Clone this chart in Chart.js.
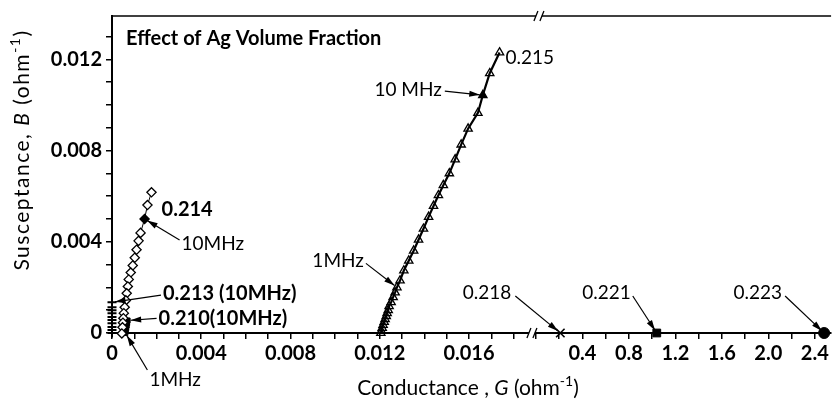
<!DOCTYPE html>
<html>
<head>
<meta charset="utf-8">
<script src="https://cdn.jsdelivr.net/npm/chart.js@4"></script>
<style>
  body { margin: 0; background: #fff; }
  #wrap { width: 839px; height: 410px; }
</style>
</head>
<body>
<div id="wrap"><canvas id="chart"></canvas></div>
<script>
// conductance G and susceptance B (ohm^-1) for each Ag volume fraction
const g215 = [0.01737, 0.01693, 0.01662, 0.01640, 0.01596, 0.01565, 0.01538, 0.01512, 0.01485, 0.01463,
              0.01441, 0.01419, 0.01396, 0.01374, 0.01352, 0.01330, 0.01308, 0.01291, 0.01277, 0.01269,
              0.01260, 0.01251, 0.01242, 0.01238, 0.01233, 0.01229, 0.01224, 0.01220, 0.01215, 0.01211,
              0.01207, 0.01205];
const b215 = [0.01230, 0.01139, 0.01043, 0.00965, 0.00896, 0.00826, 0.00761, 0.00700, 0.00648, 0.00604,
              0.00557, 0.00509, 0.00457, 0.00409, 0.00361, 0.00317, 0.00274, 0.00230, 0.00200, 0.00178,
              0.00157, 0.00135, 0.00117, 0.00100, 0.00087, 0.00074, 0.00061, 0.00048, 0.00035, 0.00022,
              0.00009, 0.00000];

const g214 = [0.00177, 0.00159, 0.00146, 0.00128, 0.00119, 0.00110, 0.00102, 0.00093, 0.00084, 0.00075,
              0.00071, 0.00066, 0.00062, 0.00057, 0.00053, 0.00051, 0.00049, 0.00047, 0.00044];
const b214 = [0.00617, 0.00561, 0.00500, 0.00439, 0.00404, 0.00365, 0.00330, 0.00296, 0.00265, 0.00235,
              0.00204, 0.00174, 0.00143, 0.00113, 0.00087, 0.00065, 0.00045, 0.00025, -0.00002];

const g213 = [0.00000, 0.00000, 0.00000, 0.00000, 0.00000, 0.00000, 0.00000, 0.00000, 0.00000, 0.00000];
const b213 = [0.00135, 0.00113, 0.00100, 0.00087, 0.00070, 0.00057, 0.00043, 0.00026, 0.00013, 0.00000];

const g210 = [0.00070, 0.00068, 0.00066, 0.00064, 0.00062, 0.00060];
const b210 = [0.00055, 0.00044, 0.00033, 0.00022, 0.00011, 0.00000];

// high-conductance samples, on the right part of the broken axis
const g218 = [0.21], b218 = [0];
const g221 = [1.04], b221 = [0];
const g223 = [2.48], b223 = [0];

// index of the 10 MHz point (drawn filled)
const mark215 = 2;
const mark214 = 2;

const yTicksMajor = [0, 0.004, 0.008, 0.012];

function pts(g, b) {
  return g.map((v, i) => ({ x: v, y: b[i] }));
}
function isMult(v, step) {
  return Math.abs(v / step - Math.round(v / step)) < 1e-6;
}

const FONT = "Lato, 'DejaVu Sans', sans-serif";

// labels with arrows: offsets are pixels from the target point
const notes = [
  { ds: 0, i: 0,  text: "0.215",        dx: 6,   dy: 5,   align: "left" },
  { ds: 0, i: 2,  text: "10 MHz",       dx: -41, dy: -5,  align: "right", ax: -38, ay: -4 },
  { ds: 1, i: 2,  text: "0.214",        dx: 17,  dy: -9,  align: "left", bold: true },
  { ds: 1, i: 2,  text: "10MHz",        dx: 37,  dy: 25,  align: "left", ax: 35, ay: 21 },
  { ds: 2, i: 0,  text: "0.213 (10MHz)", dx: 51, dy: -9,  align: "left", bold: true, ax: 49, ay: -7 },
  { ds: 3, i: 0,  text: "0.210(10MHz)", dx: 31,  dy: -2,  align: "left", bold: true, ax: 29, ay: -2 },
  { ds: 3, i: 5,  text: "1MHz",         dx: 24,  dy: 47,  align: "left", ax: 22, ay: 37 },
  { ds: 0, i: 18, text: "1MHz",         dx: -33, dy: -27, align: "right", ax: -31, ay: -24 },
  { ds: 4, i: 0,  text: "0.218",        dx: -49, dy: -40, align: "right", ax: -45, ay: -37 },
  { ds: 5, i: 0,  text: "0.221",        dx: -26, dy: -40, align: "right", ax: -24, ay: -37 },
  { ds: 6, i: 0,  text: "0.223",        dx: -42, dy: -40, align: "right", ax: -39, ay: -37 }
];

function arrow(ctx, x0, y0, x1, y1) {
  let a = Math.atan2(y1 - y0, x1 - x0);
  let tx = x1 - Math.cos(a) * 3, ty = y1 - Math.sin(a) * 3;
  ctx.beginPath();
  ctx.moveTo(x0, y0);
  ctx.lineTo(tx, ty);
  ctx.lineWidth = 1.2;
  ctx.stroke();
  ctx.beginPath();
  ctx.moveTo(tx, ty);
  ctx.lineTo(tx - Math.cos(a - 0.28) * 11, ty - Math.sin(a - 0.28) * 11);
  ctx.lineTo(tx - Math.cos(a + 0.28) * 11, ty - Math.sin(a + 0.28) * 11);
  ctx.closePath();
  ctx.fill();
}

function richText(ctx, parts, x, y) {
  let w = 0;
  parts.forEach(p => { ctx.font = p.font; w += ctx.measureText(p.t).width; });
  let cx = x - w / 2;
  parts.forEach(p => {
    ctx.font = p.font;
    ctx.fillText(p.t, cx, y + (p.dy || 0));
    cx += ctx.measureText(p.t).width;
  });
}

const decor = {
  id: "decor",
  afterDatasetsDraw(chart) {
    const ctx = chart.ctx;
    const a = chart.chartArea;
    const brk = chart.scales.x1.right;
    ctx.save();
    ctx.fillStyle = "#000";
    ctx.strokeStyle = "#000";

    // top frame line
    ctx.lineWidth = 1.5;
    ctx.beginPath();
    ctx.moveTo(a.left, a.top);
    ctx.lineTo(a.right, a.top);
    ctx.stroke();

    // axis break marks
    [[brk - 4, a.bottom], [brk + 3, a.top]].forEach(([bx, by]) => {
      ctx.fillStyle = "#fff";
      ctx.fillRect(bx - 3, by - 2, 6, 4);
      ctx.fillStyle = "#000";
      ctx.lineWidth = 1.3;
      ctx.beginPath();
      ctx.moveTo(bx - 5, by + 5); ctx.lineTo(bx - 1, by - 5);
      ctx.moveTo(bx + 1, by + 5); ctx.lineTo(bx + 5, by - 5);
      ctx.stroke();
    });

    // chart caption inside the plot
    ctx.textBaseline = "middle";
    ctx.textAlign = "left";
    ctx.font = "bold 20px " + FONT;
    ctx.fillText("Effect of Ag Volume Fraction", a.left + 14, a.top + 23);

    // point labels and arrows
    notes.forEach(n => {
      const p = chart.getDatasetMeta(n.ds).data[n.i];
      ctx.font = (n.bold ? "bold 20px " : "19px ") + FONT;
      ctx.textAlign = n.align;
      ctx.fillText(n.text, p.x + n.dx, p.y + n.dy);
      if (n.ax !== undefined) arrow(ctx, p.x + n.ax, p.y + n.ay, p.x, p.y);
    });

    // axis titles
    ctx.textAlign = "left";
    const reg = "21px " + FONT, ita = "italic 21px " + FONT, sup = "14px " + FONT;
    richText(ctx, [
      { t: "Conductance , ", font: reg }, { t: "G", font: ita }, { t: " (ohm", font: reg },
      { t: "-1", font: sup, dy: -7 }, { t: ")", font: reg }
    ], 468, 388);
    ctx.translate(22, 150);
    ctx.rotate(-Math.PI / 2);
    ctx.letterSpacing = "1.5px";
    richText(ctx, [
      { t: "Susceptance, ", font: reg }, { t: "B", font: ita }, { t: " (ohm", font: reg },
      { t: "-1", font: sup, dy: -7 }, { t: ")", font: reg }
    ], 0, 0);
    ctx.restore();
  }
};

const tickFont = { family: FONT, size: 20, weight: "bold" };

function axisBase() {
  return {
    type: "linear",
    border: { color: "#000", width: 2 },
    grid: { drawOnChartArea: false, tickLength: 6, color: "#000", lineWidth: 1.5 },
    ticks: { includeBounds: false, autoSkip: false, maxRotation: 0, color: "#000", font: tickFont }
  };
}

const x1 = axisBase();
x1.position = "bottom"; x1.stack = "g"; x1.stackWeight = 428;
x1.min = 0; x1.max = 0.019;
x1.afterFit = s => { s.height = 77; };
x1.ticks.stepSize = 0.001; x1.ticks.padding = 3;
x1.ticks.callback = v => isMult(v, 0.004) ? (v === 0 ? "0" : v.toFixed(3)) : "";

const x2 = axisBase();
x2.position = "bottom"; x2.stack = "g"; x2.stackWeight = 298;
x2.min = 0; x2.max = 2.54;
x2.afterFit = s => { s.height = 77; };
x2.grid.color = c => (c.tick && c.tick.value === 0) ? "rgba(0,0,0,0)" : "#000";
x2.ticks.stepSize = 0.2; x2.ticks.padding = 3;
x2.ticks.callback = v => (v > 0.1 && isMult(v, 0.4)) ? v.toFixed(1) : "";

const y = axisBase();
y.position = "left";
y.min = 0; y.max = 0.0139;
y.afterFit = s => { s.width = 112; };
y.ticks.stepSize = 0.001; y.ticks.padding = 4;
y.ticks.callback = v => yTicksMajor.some(m => Math.abs(m - v) < 1e-7) ? (v === 0 ? "0" : v.toFixed(3)) : "";

const hollow = "rgba(255,255,255,0)";

new Chart(document.getElementById("chart"), {
  type: "scatter",
  data: {
    datasets: [
      {
        label: "0.215", data: pts(g215, b215), xAxisID: "x1", yAxisID: "y", clip: false,
        showLine: true, borderColor: "#000", borderWidth: 2.2,
        pointStyle: "triangle", pointRadius: 4.8, pointBorderWidth: 1.3, pointBorderColor: "#000",
        pointBackgroundColor: g215.map((v, i) => i === mark215 ? "#000" : hollow)
      },
      {
        label: "0.214", data: pts(g214, b214), xAxisID: "x1", yAxisID: "y", clip: false,
        showLine: true, borderColor: "#000", borderWidth: 1,
        pointStyle: "rectRot", pointRadius: 4.6, pointBorderWidth: 1.3, pointBorderColor: "#000",
        pointBackgroundColor: g214.map((v, i) => i === mark214 ? "#000" : "#fff")
      },
      {
        label: "0.213", data: pts(g213, b213), xAxisID: "x1", yAxisID: "y", clip: false,
        showLine: true, borderColor: "#000", borderWidth: 2,
        pointStyle: "cross", pointRadius: 4.5, pointBorderWidth: 2, pointBorderColor: "#000"
      },
      {
        label: "0.210", data: pts(g210, b210), xAxisID: "x1", yAxisID: "y", clip: false,
        showLine: false,
        pointStyle: "rect", pointRadius: 3.5, pointBorderWidth: 1, pointBorderColor: "#000",
        pointBackgroundColor: "#000"
      },
      {
        label: "0.218", data: pts(g218, b218), xAxisID: "x2", yAxisID: "y", clip: false,
        pointStyle: "crossRot", pointRadius: 6, pointBorderWidth: 1.6, pointBorderColor: "#000"
      },
      {
        label: "0.221", data: pts(g221, b221), xAxisID: "x2", yAxisID: "y", clip: false,
        pointStyle: "rect", pointRadius: 5.5, pointBorderColor: "#000", pointBackgroundColor: "#000"
      },
      {
        label: "0.223", data: pts(g223, b223), xAxisID: "x2", yAxisID: "y", clip: false,
        pointStyle: "circle", pointRadius: 5.5, pointBorderColor: "#000", pointBackgroundColor: "#000"
      }
    ]
  },
  options: {
    responsive: true,
    maintainAspectRatio: false,
    animation: false,
    layout: { padding: { top: 12, right: 0, left: 0, bottom: 0 } },
    plugins: { legend: { display: false }, tooltip: { enabled: false } },
    scales: { x1: x1, x2: x2, y: y }
  },
  plugins: [decor]
});
</script>
</body>
</html>
